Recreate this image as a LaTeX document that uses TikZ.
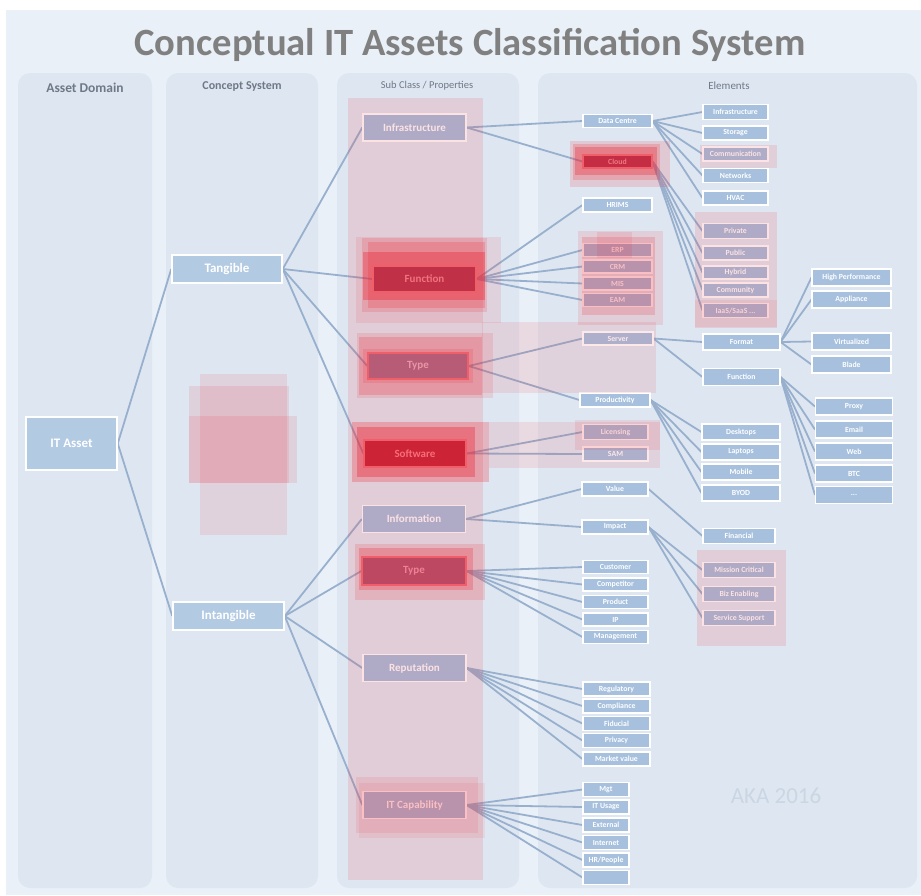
\documentclass[tikz,border=0pt]{standalone}
\usepackage{fontspec}
\setmainfont{Carlito}
\pgfdeclarelayer{bglayer}
\pgfdeclarelayer{linelayer}
\pgfdeclarelayer{toplayer}
\pgfsetlayers{bglayer,linelayer,main,toplayer}
\definecolor{bgout}{HTML}{E9F0F7}
\definecolor{panel}{HTML}{DEE7F1}
\definecolor{boxblue}{HTML}{A6C0DD}
\definecolor{bigblue}{HTML}{B3CAE3}
\definecolor{conn}{HTML}{98B0CD}
\definecolor{hdr}{HTML}{6E7887}
\definecolor{ttl}{HTML}{808080}
\definecolor{heat}{HTML}{F0202E}
\definecolor{aka}{HTML}{CAD6E3}
\definecolor{hotA}{RGB}{192,48,70}
\definecolor{hotAtxt}{RGB}{240,115,128}
\definecolor{hotB}{RGB}{205,35,55}
\definecolor{hotBtxt}{RGB}{245,110,120}
\definecolor{hotC}{RGB}{182,92,118}
\definecolor{hotCtxt}{RGB}{232,150,165}
\definecolor{hotD}{RGB}{188,72,98}
\definecolor{hotDtxt}{RGB}{238,130,148}
\definecolor{hotE}{RGB}{196,45,68}
\definecolor{hotEtxt}{RGB}{240,120,130}
\definecolor{hotrim}{RGB}{240,95,105}
\tikzset{
  elbox/.style={draw=white, line width=1.1pt, fill=boxblue, text=white, inner sep=0pt, font=\fontsize{7.8}{9}\selectfont\bfseries},
  subbox/.style={draw=white, line width=1.4pt, fill=boxblue, text=white, inner sep=0pt, minimum width=103pt, minimum height=27pt, font=\fontsize{11}{12}\selectfont\bfseries},
  bigbox/.style={draw=white, line width=1.5pt, fill=bigblue, text=white, inner sep=0pt, font=\fontsize{13}{15}\selectfont\bfseries},
  link/.style={draw=conn, line width=1.8pt},
  panelbox/.style={fill=panel, rounded corners=12pt, draw=none},
  hdrtext/.style={text=hdr, inner sep=0pt},
}
\newcommand\elnode[6]{\node[elbox, minimum width=#4pt, minimum height=#5pt] (#1) at (#2,#3) {#6};}
\newcommand\heatrect[5]{\fill[heat, fill opacity=#5] (#1,#2) rectangle (#3,#4);}
\begin{document}
\begin{tikzpicture}[x=1pt,y=-1pt]
\useasboundingbox (0,0) rectangle (921,895);
\begin{pgfonlayer}{bglayer}
\fill[white] (0,0) rectangle (921,895);
\fill[bgout] (6,10) rectangle (921,895);
\fill[panelbox] (18,73) rectangle (152,888);
\fill[panelbox] (166,73) rectangle (318,888);
\fill[panelbox] (337,73) rectangle (519,888);
\fill[panelbox] (538,73) rectangle (917,888);
\end{pgfonlayer}

% title and headers
\node[text=ttl, font=\fontsize{38.6}{43}\selectfont\bfseries] (title) at (470,45) {Conceptual IT Assets Classification System};
\node[hdrtext, font=\fontsize{13.5}{15}\selectfont\bfseries] (h1) at (85,88) {Asset Domain};
\node[hdrtext, font=\fontsize{12}{14}\selectfont\bfseries] (h2) at (242,87) {Concept System};
\node[hdrtext, font=\fontsize{10.5}{12}\selectfont] (h3) at (427,86) {Sub Class / Properties};
\node[hdrtext, font=\fontsize{11}{12}\selectfont] (h4) at (729,86) {Elements};

% big boxes
\node[bigbox, minimum width=91pt, minimum height=53pt] (itasset) at (71.5,443.5) {IT Asset};
\node[bigbox, minimum width=110pt, minimum height=28pt] (tangible) at (227,269) {Tangible};
\node[bigbox, minimum width=111pt, minimum height=28pt] (intangible) at (228.5,616) {Intangible};

% sub class boxes (plain)
\node[subbox] (infra) at (414.5,127.5) {Infrastructure};
\node[subbox] (info) at (414,519) {Information};
\node[subbox] (repu) at (414.5,668) {Reputation};
\node[subbox] (itcap) at (414.5,805) {IT Capability};

% elements column 1
\elnode{dc}{617.5}{121}{69}{13}{Data Centre}
\elnode{hrims}{617.5}{205}{69}{14}{HRIMS}
\elnode{erp}{617.5}{250}{69}{13}{ERP}
\elnode{crm}{617.5}{266.5}{69}{13}{CRM}
\elnode{mis}{617.5}{283.5}{69}{13}{MIS}
\elnode{eam}{617.5}{300}{69}{13}{EAM}
\elnode{server}{618}{338.5}{70}{13}{Server}
\elnode{prod}{615}{400}{70}{14}{Productivity}
\elnode{lic}{615.5}{432}{65}{15}{Licensing}
\elnode{sam}{615.5}{454}{65}{14}{SAM}
\elnode{value}{615}{489}{66}{14}{Value}
\elnode{impact}{615}{527}{66}{14}{Impact}
\elnode{cust}{615.5}{567}{65}{13}{Customer}
\elnode{comp}{615.5}{584.5}{65}{13}{Competitor}
\elnode{product}{615.5}{602}{65}{13}{Product}
\elnode{ip}{615.5}{619.5}{65}{13}{IP}
\elnode{mgmt}{615.5}{637}{65}{13}{Management}
\elnode{regu}{616.5}{689}{67}{14}{Regulatory}
\elnode{compl}{616.5}{706}{67}{14}{Compliance}
\elnode{fidu}{616.5}{723.5}{67}{14}{Fiducial}
\elnode{priv}{616.5}{740.5}{67}{14}{Privacy}
\elnode{mval}{616.5}{759}{67}{14}{Market value}
\elnode{mgt}{606}{789.5}{46}{14}{Mgt}
\elnode{itu}{606}{807}{46}{14}{IT Usage}
\elnode{ext}{606}{825}{46}{14}{External}
\elnode{inet}{606}{842.5}{46}{14}{Internet}
\elnode{hrp}{606}{860}{46}{14}{HR/People}
\elnode{blank}{606}{877.5}{46}{14}{}

% elements column 2
\elnode{infrab}{735.5}{112}{65}{15}{Infrastructure}
\elnode{stor}{735.5}{133}{65}{14}{Storage}
\elnode{commu}{735.5}{154}{65}{14}{Communication}
\elnode{netw}{735.5}{175.5}{65}{14}{Networks}
\elnode{hvac}{735.5}{198}{65}{14}{HVAC}
\elnode{private}{735.5}{231}{65}{15}{Private}
\elnode{public}{735.5}{253}{65}{14}{Public}
\elnode{hybrid}{735.5}{272.5}{65}{13}{Hybrid}
\elnode{commy}{735.5}{290}{65}{14}{Community}
\elnode{iaas}{735.5}{310.5}{65}{14}{IaaS/SaaS ...}
\elnode{format}{741.5}{342}{77}{16}{Format}
\elnode{funcel}{741.5}{377}{77}{17}{Function}
\elnode{desk}{741}{432}{78}{16}{Desktops}
\elnode{lap}{741}{452}{78}{16}{Laptops}
\elnode{mob}{741}{472}{78}{16}{Mobile}
\elnode{byod}{741}{493}{78}{16}{BYOD}
\elnode{fin}{739}{536}{72}{15}{Financial}
\elnode{miss}{739}{570}{72}{15}{Mission Critical}
\elnode{biz}{739}{594}{72}{15}{Biz Enabling}
\elnode{serv}{739}{618}{72}{15}{Service Support}

% elements column 3
\elnode{hp}{851.5}{277.5}{79}{17}{High Performance}
\elnode{appl}{851.5}{299.5}{79}{17}{Appliance}
\elnode{virt}{851.5}{341.5}{79}{17}{Virtualized}
\elnode{blade}{851.5}{364.5}{79}{17}{Blade}
\elnode{proxy}{854}{406.5}{77}{17}{Proxy}
\elnode{email}{854}{429.5}{77}{17}{Email}
\elnode{web}{854}{451.5}{77}{17}{Web}
\elnode{btc}{854}{473.5}{77}{17}{BTC}
\elnode{dots}{854}{495}{77}{17}{...}

\node[text=aka, font=\fontsize{23}{25}\selectfont, inner sep=0pt] (akatext) at (776,796) {AKA 2016};

% heat overlays
\begin{pgfonlayer}{toplayer}
\heatrect{348}{98}{483}{880}{0.13}
\heatrect{200}{374}{287}{535}{0.10}
\heatrect{189}{386}{289}{483}{0.11}
\heatrect{189}{416}{297}{483}{0.11}
% Function
\heatrect{356}{237}{501}{323}{0.10}
\heatrect{362}{238}{487}{312}{0.15}
\heatrect{368}{242}{485}{308}{0.20}
\heatrect{363}{252}{485}{300}{0.35}
% Type
\heatrect{357}{333}{493}{398}{0.12}
\heatrect{359}{337}{482}{395}{0.20}
\heatrect{482}{322}{656}{393}{0.10}
\heatrect{363}{349}{473}{383}{0.15}
% Software
\heatrect{352}{422}{489}{482}{0.25}
\heatrect{357}{427}{475}{477}{0.35}
\heatrect{489}{422}{660}{468}{0.10}
\heatrect{575}{420}{660}{450}{0.10}
% Type (intangible)
\heatrect{355}{544}{485}{600}{0.15}
\heatrect{359}{548}{473}{590}{0.25}
% IT capability
\heatrect{356}{777}{478}{833}{0.10}
\heatrect{359}{783}{485}{838}{0.08}
% Cloud
\heatrect{570}{141}{670}{187}{0.15}
\heatrect{573}{144}{660}{180}{0.20}
\heatrect{575}{147}{657}{175}{0.30}
% Communication
\heatrect{700}{145}{777}{168}{0.12}
% cloud children
\heatrect{695}{212}{777}{328}{0.13}
\heatrect{695}{300}{777}{327}{0.08}
% ERP group
\heatrect{578}{231}{663}{325}{0.12}
\heatrect{582}{237}{655}{315}{0.18}
\heatrect{597}{232}{632}{258}{0.10}
% Mission critical group
\heatrect{697}{550}{786}{646}{0.13}
% hot boxes, drawn over the heat
\node[subbox, minimum height=26pt, fill=hotA, draw=hotrim, text=hotAtxt] (func) at (424.5,279) {Function};
\node[subbox, minimum width=100pt, minimum height=26pt, fill=hotC, draw=hotrim, text=hotCtxt] (type) at (418,366) {Type};
\node[subbox, minimum width=102pt, fill=hotB, draw=hotrim, text=hotBtxt] (soft) at (415,453.5) {Software};
\node[subbox, minimum width=104pt, minimum height=28pt, fill=hotD, draw=hotrim, text=hotDtxt] (typeb) at (414,571) {Type};
\node[elbox, minimum width=69pt, minimum height=13pt, fill=hotE, draw=hotrim, text=hotEtxt] (cloud) at (617.5,161.5) {Cloud};
\end{pgfonlayer}

% connectors
\begin{pgfonlayer}{linelayer}
\foreach \t in {tangible,intangible} \draw[link] (itasset.east) -- (\t.west);
\foreach \t in {infra,func,type,soft} \draw[link] (tangible.east) -- (\t.west);
\foreach \t in {info,typeb,repu,itcap} \draw[link] (intangible.east) -- (\t.west);
\foreach \t in {dc,cloud} \draw[link] (infra.east) -- (\t.west);
\foreach \t in {hrims,erp,crm,mis,eam} \draw[link] (func.east) -- (\t.west);
\foreach \t in {server,prod} \draw[link] (type.east) -- (\t.west);
\foreach \t in {lic,sam} \draw[link] (soft.east) -- (\t.west);
\foreach \t in {value,impact} \draw[link] (info.east) -- (\t.west);
\foreach \t in {cust,comp,product,ip,mgmt} \draw[link] (typeb.east) -- (\t.west);
\foreach \t in {regu,compl,fidu,priv,mval} \draw[link] (repu.east) -- (\t.west);
\foreach \t in {mgt,itu,ext,inet,hrp,blank} \draw[link] (itcap.east) -- (\t.west);
\foreach \t in {infrab,stor,commu,netw,hvac} \draw[link] (dc.east) -- (\t.west);
\foreach \t in {private,public,hybrid,commy,iaas} \draw[link] (cloud.east) -- (\t.west);
\foreach \t in {format,funcel} \draw[link] (server.east) -- (\t.west);
\foreach \t in {hp,appl,virt,blade} \draw[link] (format.east) -- (\t.west);
\foreach \t in {proxy,email,web,btc,dots} \draw[link] (funcel.east) -- (\t.west);
\foreach \t in {desk,lap,mob,byod} \draw[link] (prod.east) -- (\t.west);
\draw[link] (value.east) -- (fin.west);
\foreach \t in {miss,biz,serv} \draw[link] (impact.east) -- (\t.west);
\end{pgfonlayer}
\end{tikzpicture}
\end{document}
